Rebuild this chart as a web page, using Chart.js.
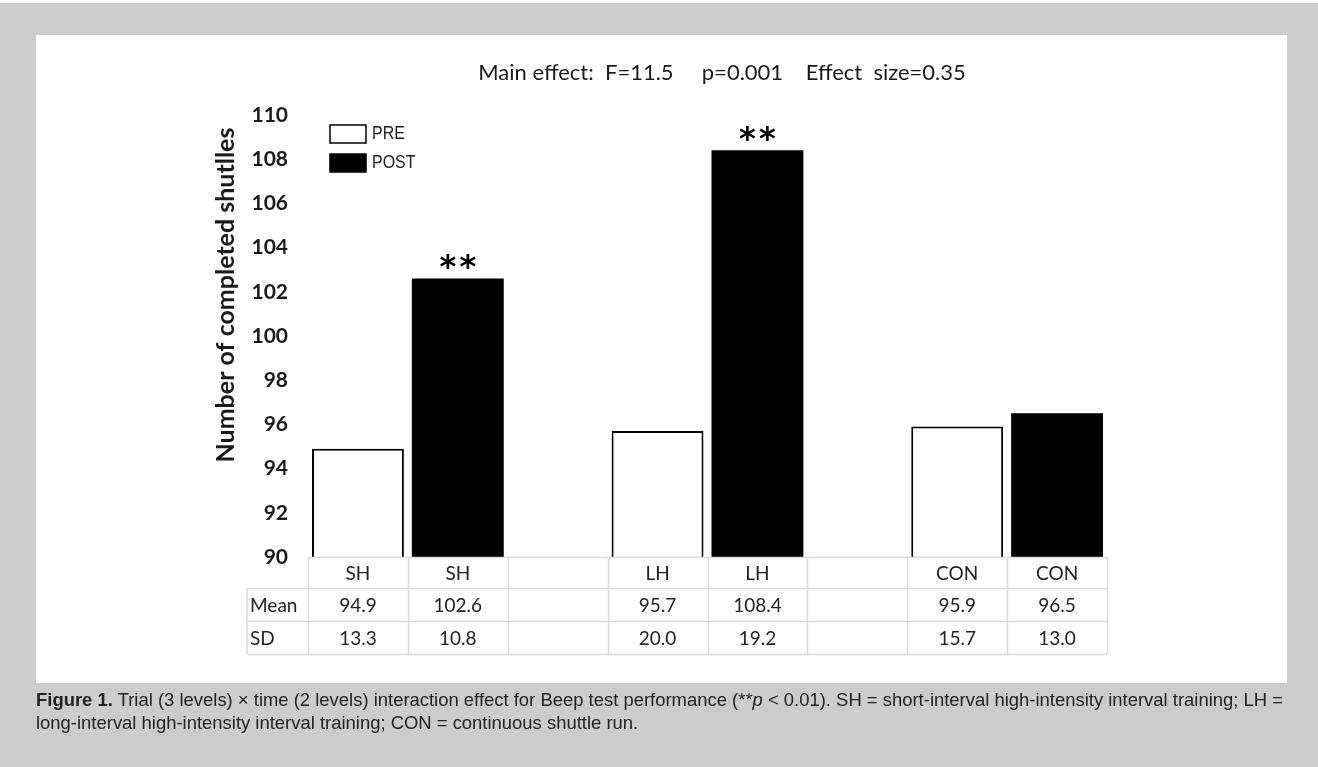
<!DOCTYPE html>
<html>
<head>
<meta charset="utf-8">
<script src="https://cdn.jsdelivr.net/npm/chart.js@4/dist/chart.umd.min.js"></script>
<style>
  html, body { margin: 0; padding: 0; background: #fff; }
  body { width: 1318px; height: 767px; position: relative; overflow: hidden; }
  .frame { position: absolute; left: 0; top: 3px; width: 1318px; height: 764px; background: #cccccc; }
  .panel { position: absolute; left: 36px; top: 35px; width: 1251px; height: 648px; background: #fff; }
  #chart { position: absolute; left: 0; top: 0; }
  .caption {
    position: absolute; left: 36px; top: 688px;
    font-family: "Liberation Sans", Arial, sans-serif;
    font-size: 18.5px; line-height: 23px; color: #222;
    white-space: nowrap; transform-origin: 0 0;
  }
</style>
</head>
<body>
<div class="frame"></div>
<div class="panel"></div>
<canvas id="chart" width="1318" height="767"></canvas>
<div class="caption" id="caption"><span id="capLine1"><b>Figure 1.</b> Trial (3 levels) × time (2 levels) interaction effect for Beep test performance (**<i>p</i> &lt; 0.01). SH = short-interval high-intensity interval training; LH =</span><br>long-interval high-intensity interval training; CON = continuous shuttle run.</div>

<script>
// chart data
const groups = ["SH", "SH", "", "LH", "LH", "", "CON", "CON"];
const preValues = [94.9, null, null, 95.7, null, null, 95.9, null];
const postValues = [null, 102.6, null, null, 108.4, null, null, 96.5];
const sdValues = [13.3, 10.8, null, 20.0, 19.2, null, 15.7, 13.0];
const sigMarks = ["", "**", "", "", "**", "", "", ""];
const seriesNames = ["PRE", "POST"];
const rowNames = ["", "Mean", "SD"];
const yMin = 90, yMax = 110, yStep = 2;
const mainTitle = "Main effect:  F=11.5     p=0.001    Effect  size=0.35";
const yTitle = "Number of completed shutlles";

const textColor = "#1a1a1a";
const lineColor = "#d9d9d9";

// squeeze the caption so line 1 spans the panel like the narrow print font
const cap = document.getElementById("caption");
const w1 = document.getElementById("capLine1").getBoundingClientRect().width;
cap.style.transform = "scaleX(" + (1247 / w1) + ")";

// draws title, legend, asterisks and the data table under the bars
const decorPlugin = {
  id: "decor",
  afterDraw(chart) {
    const ctx = chart.ctx;
    const area = chart.chartArea;
    const x = chart.scales.x;
    ctx.save();

    // main title
    ctx.fillStyle = textColor;
    ctx.font = "22px Lato";
    ctx.textAlign = "center";
    ctx.textBaseline = "middle";
    ctx.fillText(mainTitle, 722, 73);

    // y axis title
    ctx.save();
    ctx.translate(226, 295);
    ctx.rotate(-Math.PI / 2);
    ctx.font = "bold 25px Lato";
    ctx.fillText(yTitle, 0, 0);
    ctx.restore();

    // legend
    chart.data.datasets.forEach((ds, i) => {
      const bx = area.left + 22, by = area.top + 10 + i * 29;
      ctx.fillStyle = ds.backgroundColor;
      ctx.fillRect(bx, by, 36, 18);
      ctx.strokeStyle = "#000";
      ctx.lineWidth = 1.5;
      ctx.strokeRect(bx, by, 36, 18);
      ctx.save();
      ctx.translate(bx + 42, by + 9);
      ctx.scale(0.84, 1);
      ctx.fillStyle = textColor;
      ctx.font = "19px 'Liberation Sans', Arial, sans-serif";
      ctx.textAlign = "left";
      ctx.textBaseline = "middle";
      ctx.fillText(ds.label, 0, 0);
      ctx.restore();
    });

    // significance asterisks on post bars
    const postMeta = chart.getDatasetMeta(1);
    ctx.font = "bold 32px 'DejaVu Sans'";
    ctx.textAlign = "center";
    ctx.textBaseline = "middle";
    postMeta.data.forEach((bar, i) => {
      if (sigMarks[i] && postValues[i] != null) {
        const stars = sigMarks[i].split("");
        stars.forEach((s, k) => {
          const off = (k - (stars.length - 1) / 2) * 20;
          ctx.fillText(s, bar.x + off, bar.y - 10);
        });
      }
    });

    // table
    const slot = x.width / groups.length;
    const labelLeft = area.left - 61;
    const rowH = [31, 33, 33];
    const rowTop = [area.bottom];
    rowH.forEach((h, r) => rowTop.push(rowTop[r] + h));
    const right = area.left + slot * groups.length;

    ctx.strokeStyle = lineColor;
    ctx.lineWidth = 1.5;
    ctx.beginPath();
    rowTop.forEach((y, r) => {
      ctx.moveTo(r === 0 ? area.left : labelLeft, y + 0.5);
      ctx.lineTo(right, y + 0.5);
    });
    ctx.moveTo(labelLeft, rowTop[1]);
    ctx.lineTo(labelLeft, rowTop[3]);
    for (let i = 0; i <= groups.length; i++) {
      const cx = Math.round(area.left + slot * i) + 0.5;
      ctx.moveTo(cx, rowTop[0]);
      ctx.lineTo(cx, rowTop[3]);
    }
    ctx.stroke();

    ctx.fillStyle = "#222";
    ctx.font = "19px Lato";
    ctx.textBaseline = "middle";
    rowNames.forEach((name, r) => {
      if (!name) return;
      ctx.textAlign = "left";
      ctx.fillText(name, labelLeft + 3, rowTop[r] + rowH[r] / 2 + 1);
    });
    ctx.textAlign = "center";
    groups.forEach((g, i) => {
      const cx = x.getPixelForValue(i);
      const mean = preValues[i] != null ? preValues[i] : postValues[i];
      const cells = [g, mean != null ? mean.toFixed(1) : "", sdValues[i] != null ? sdValues[i].toFixed(1) : ""];
      cells.forEach((c, r) => {
        if (c) ctx.fillText(c, cx, rowTop[r] + rowH[r] / 2 + 1);
      });
    });

    ctx.restore();
  }
};

new Chart(document.getElementById("chart"), {
  type: "bar",
  data: {
    labels: groups,
    datasets: [
      {
        label: seriesNames[0],
        data: preValues,
        backgroundColor: "#ffffff",
        borderColor: "#000000",
        borderWidth: 2,
        borderSkipped: false
      },
      {
        label: seriesNames[1],
        data: postValues,
        backgroundColor: "#000000",
        borderColor: "#000000",
        borderWidth: 0
      }
    ]
  },
  options: {
    responsive: false,
    animation: false,
    layout: { padding: { left: 200, right: 211, top: 115, bottom: 210 } },
    plugins: {
      legend: { display: false },
      tooltip: { enabled: false }
    },
    datasets: {
      bar: { categoryPercentage: 1, barPercentage: 0.92 }
    },
    scales: {
      x: {
        stacked: true,
        display: false
      },
      y: {
        min: yMin,
        max: yMax,
        afterFit(scale) { scale.width = 108; },
        grid: { display: false, drawTicks: false },
        border: { display: false },
        ticks: {
          stepSize: yStep,
          padding: 20,
          color: textColor,
          font: { family: "Lato", size: 21, weight: "bold" }
        }
      }
    }
  },
  plugins: [decorPlugin]
});
</script>
</body>
</html>
